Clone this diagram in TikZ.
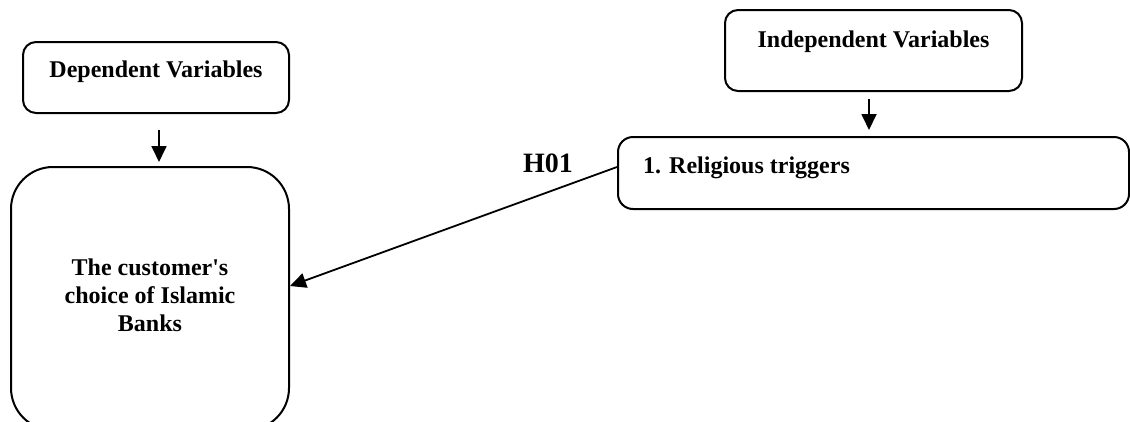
\documentclass[tikz,border=0pt]{standalone}
\usepackage{fontspec}
\setmainfont{Liberation Serif}
\usetikzlibrary{arrows.meta,calc}
\begin{document}
\begin{tikzpicture}[x=1pt,y=-1pt,
  box/.style={draw, line width=2pt, rounded corners=13pt, inner sep=0pt},
  lbl/.style={font=\fontsize{24}{28}\selectfont\bfseries, inner sep=0pt, align=center},
  arr/.style={line width=1.8pt, -{Triangle[length=16pt,width=15pt]}}]
\path[use as bounding box, clip] (0,0) rectangle (1130,421);
% boxes
\node[box, minimum width=266pt, minimum height=71pt] (depbox) at (156,77.5) {};
\node[lbl] (deptxt) at (156,72) {Dependent Variables};
\node[box, rounded corners=42pt, minimum width=278pt, minimum height=263pt] (dv) at (150,298.5) {};
\node[lbl] (dvtxt) at (150,295) {The customer\textquotesingle s\\choice of Islamic\\Banks};
\node[box, minimum width=297pt, minimum height=81pt] (indbox) at (873.5,50.5) {};
\node[lbl] (indtxt) at (873.5,42) {Independent Variables};
\node[box, rounded corners=15pt, minimum width=511pt, minimum height=72pt] (relbox) at (873.5,173) {};
\node[lbl, anchor=west] (reltxt) at (643,168) {1. Religious triggers};
\node[lbl, font=\fontsize{28}{32}\selectfont\bfseries] (h01) at (548,163) {H01};
% connectors
\draw[arr, shorten <=16pt, shorten >=4pt] ($(depbox.south)+(3,0)$) -- ($(dv.north)+(9,0)$);
\draw[arr, shorten <=7pt, shorten >=6pt] ($(indbox.south)+(-4.5,0)$) -- ($(relbox.north)+(-4.5,0)$);
\draw[arr] ($(relbox.west)+(0,-6)$) -- ($(dv.east)+(0,-12.5)$);
\end{tikzpicture}
\end{document}
